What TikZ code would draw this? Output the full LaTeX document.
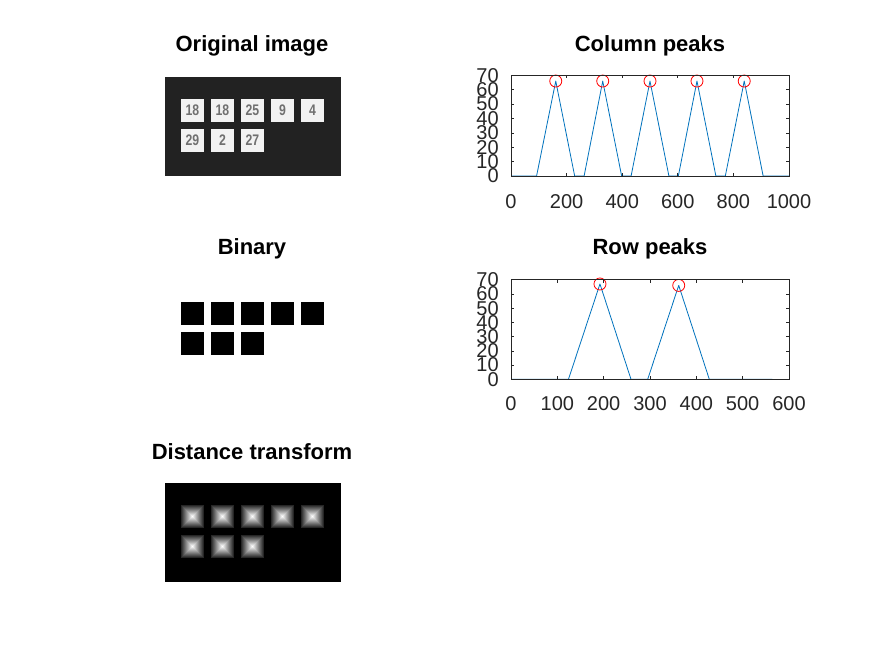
\documentclass[tikz,border=0pt]{standalone}
\usepackage{fontspec}
\setmainfont{Liberation Sans}
\usepackage{graphicx}
\usepackage{tikz}
\usetikzlibrary{positioning}
\definecolor{axisgray}{HTML}{262626}
\definecolor{lineblue}{rgb}{0,0.447,0.741}
\definecolor{bgdark}{HTML}{222222}
\definecolor{tilegray}{HTML}{F2F2F2}
\definecolor{numgray}{HTML}{707070}
\tikzstyle{paneltitle} = [font=\fontsize{16.5}{20}\selectfont\bfseries, text=black, inner sep=0pt, anchor=base]
\tikzstyle{ticklabel} = [font=\fontsize{15}{18}\selectfont, text=axisgray, inner sep=0pt]
\tikzstyle{tile} = [rectangle, fill=tilegray, minimum size=17.25pt, inner sep=0pt, text=numgray, font=\fontsize{11.5}{13}\selectfont\bfseries]
\tikzstyle{bintile} = [rectangle, fill=black, minimum size=17.25pt, inner sep=0pt]
\tikzstyle{axisline} = [draw=axisgray, line width=0.5pt]
\tikzstyle{dataline} = [draw=lineblue, line width=0.6pt, line join=round]
\tikzstyle{peakmark} = [draw=red, line width=0.6pt]

\begin{document}
\begin{tikzpicture}[x=0.75pt,y=-0.75pt]
    \useasboundingbox (0,0) rectangle (872,654);
    \fill[white] (0,0) rectangle (872,654);

    % titles
    \node (ttlorig) [paneltitle] at (252,51.7) {Original image};
    \node (ttlbin) [paneltitle] at (252,254.5) {Binary};
    \node (ttldist) [paneltitle] at (252,459.5) {Distance transform};
    \node (ttlcol) [paneltitle] at (650,51.7) {Column peaks};
    \node (ttlrow) [paneltitle] at (650,254.5) {Row peaks};

    % original image
    \fill[bgdark] (165,77) rectangle (341,176);
    \foreach \lbl [count=\i from 0] in {18,18,25,9,4,29,2,27} {
        \pgfmathsetmacro\cx{192.5+30*mod(\i,5)}
        \pgfmathsetmacro\cy{110.5+30*int(\i/5)}
        \node (orig\i) [tile] at (\cx,\cy) {\scalebox{0.8}[1]{\lbl}};
    }

    % binary
    \foreach \i in {0,...,7} {
        \pgfmathsetmacro\cx{192.5+30*mod(\i,5)}
        \pgfmathsetmacro\cy{313.5+30*int(\i/5)}
        \node (bin\i) [bintile] at (\cx,\cy) {};
    }

    % distance transform
    \fill[black] (165,483) rectangle (341,582);
    \foreach \i in {0,...,7} {
        \pgfmathsetmacro\ox{181+30*mod(\i,5)}
        \pgfmathsetmacro\oy{505+30*int(\i/5)}
        \foreach \k in {0,...,11} {
            \pgfmathsetmacro\lv{15+\k*85/11}
            \fill[white!\lv!black] (\ox+\k,\oy+\k) rectangle (\ox+23-\k,\oy+23-\k);
        }
    }

    % column peaks
    \begin{scope}[shift={(511,176)}, x=0.2085pt, y=1.079pt]
        \draw[dataline] (0,0) -- (92,0) -- (161,66) -- (229,0) -- (263,0) -- (330,66) -- (398,0)
            -- (432,0) -- (500,66) -- (568,0) -- (602,0) -- (669,66) -- (737,0)
            -- (771,0) -- (839,66) -- (907,0) -- (1000,0);
        \foreach \px in {161,330,500,669,839}
            \draw[peakmark] (\px,66) circle (4.5pt);
        \draw[axisline] (0,0) rectangle (1000,70);
        \foreach \x in {0,200,...,1000} {
            \draw[axisline] (\x,0) -- ++(0,2.25pt);
            \draw[axisline] (\x,70) -- ++(0,-2.25pt);
            \node (cx\x) [ticklabel] at ([yshift=-19pt]\x,0) {\x};
        }
        \foreach \y in {0,10,...,70} {
            \draw[axisline] (0,\y) -- ++(2.25pt,0);
            \draw[axisline] (1000,\y) -- ++(-2.25pt,0);
            \node (cy\y) [ticklabel, anchor=east] at ([xshift=-9pt]0,\y) {\y};
        }
    \end{scope}

    % row peaks
    \begin{scope}[shift={(511,379.3)}, x=0.3475pt, y=1.067pt]
        \draw[dataline] (0,0) -- (124,0) -- (192,67) -- (259,0) -- (295,0) -- (362,66)
            -- (428,0) -- (564,0);
        \draw[peakmark] (192,67) circle (4.5pt);
        \draw[peakmark] (362,66) circle (4.5pt);
        \draw[axisline] (0,0) rectangle (600,70);
        \foreach \x in {0,100,...,600} {
            \draw[axisline] (\x,0) -- ++(0,2.25pt);
            \draw[axisline] (\x,70) -- ++(0,-2.25pt);
            \node (rx\x) [ticklabel] at ([yshift=-18pt]\x,0) {\x};
        }
        \foreach \y in {0,10,...,70} {
            \draw[axisline] (0,\y) -- ++(2.25pt,0);
            \draw[axisline] (600,\y) -- ++(-2.25pt,0);
            \node (ry\y) [ticklabel, anchor=east] at ([xshift=-9pt]0,\y) {\y};
        }
    \end{scope}
\end{tikzpicture}
\end{document}
